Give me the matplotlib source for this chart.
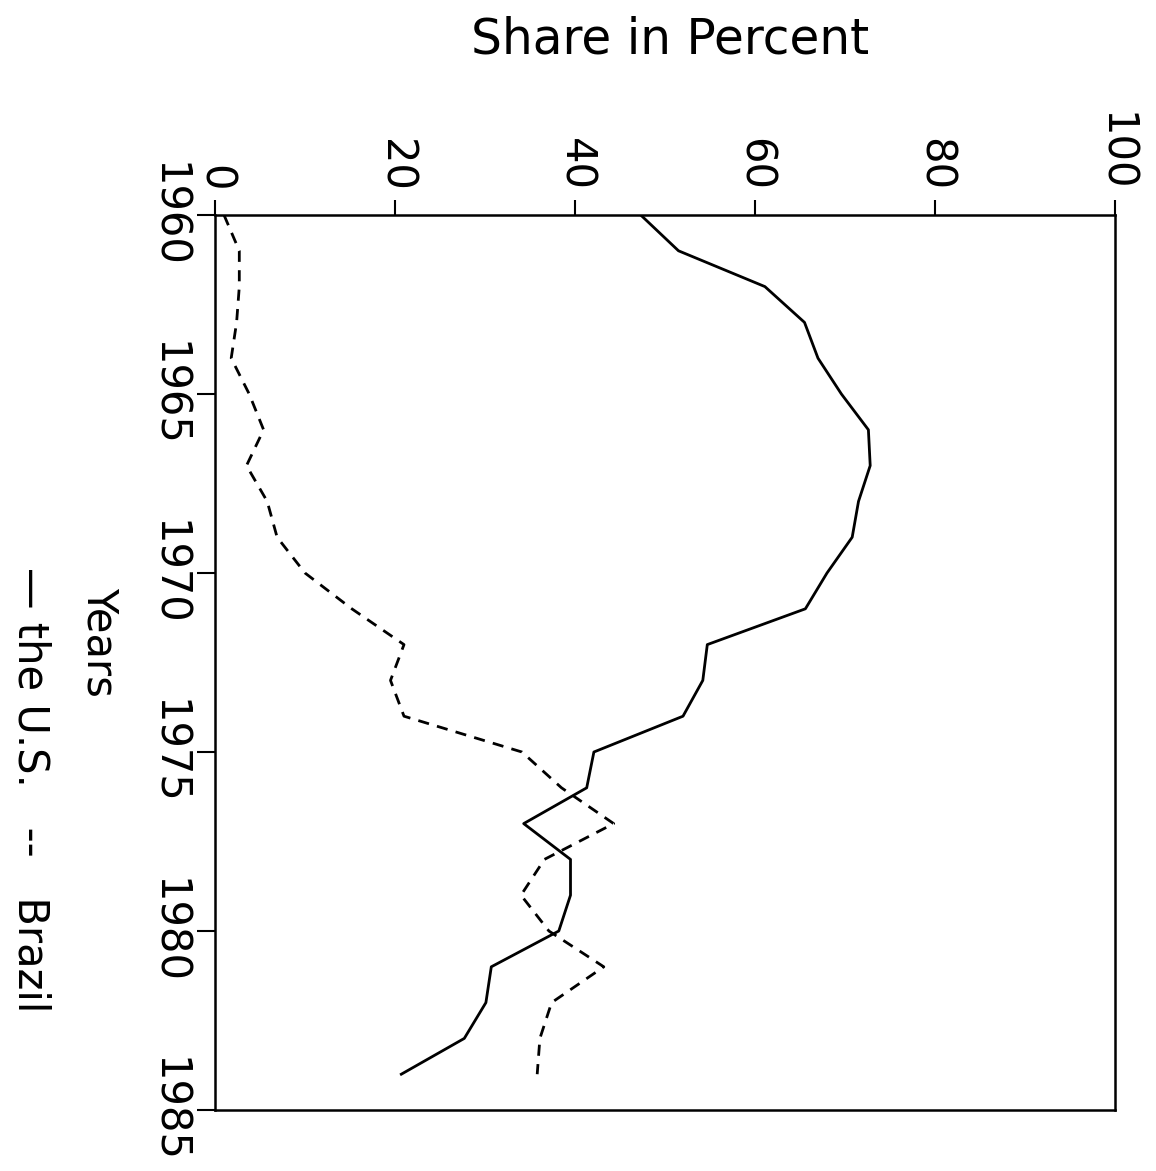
import matplotlib.pyplot as plt

# Annual shares (percent)
years = list(range(1960, 1985))
us_share = [47.3, 51.5, 61.1, 65.5, 67.0, 69.6, 72.6, 72.8, 71.5, 70.8,
            68.0, 65.6, 54.7, 54.2, 52.0, 42.1, 41.3, 34.3, 39.5, 39.5,
            38.2, 30.7, 30.1, 27.7, 20.7]
brazil_share = [1.0, 2.7, 2.7, 2.4, 1.8, 3.8, 5.4, 3.5, 5.8, 6.9,
                10.0, 15.2, 21.0, 19.5, 21.0, 34.1, 38.5, 44.3, 36.6, 34.0,
                37.1, 43.2, 37.4, 36.1, 35.8]
share_ticks = [0, 20, 40, 60, 80, 100]
year_ticks = [1960, 1965, 1970, 1975, 1980, 1985]

plt.rcParams['font.family'] = ['DejaVu Sans']

W, H = 1156, 1171
fig = plt.figure(figsize=(W / 100, H / 100), dpi=100)
ax = fig.add_axes([215 / W, 1 - 1110 / H, 900 / W, 895 / H])

ax.plot(us_share, years, color='black', lw=2)
ax.plot(brazil_share, years, color='black', lw=2, dashes=[4, 3])

ax.set_xlim(0, 100)
ax.set_ylim(1985, 1960)
ax.set_xticks(share_ticks)
ax.set_yticks(year_ticks)
ax.xaxis.tick_top()

for s in ax.spines.values():
    s.set_linewidth(1.8)

ax.tick_params(axis='x', direction='out', length=11, width=1.5, pad=6,
               labelsize=30, labelrotation=-90)
ax.tick_params(axis='y', direction='out', length=13, width=1.5, pad=6,
               labelsize=30, labelrotation=-90)
for lab in ax.get_yticklabels():
    lab.set_va('center')

fig.text(670 / W, 1 - 40 / H, 'Share in Percent', ha='center', va='center',
         fontsize=35)
fig.text(100 / W, 1 - 642 / H, 'Years', rotation=-90, ha='center',
         va='center', fontsize=30)
fig.text(30 / W, 1 - 790 / H, '\u2014 the U.S.   --   Brazil', rotation=-90,
         ha='center', va='center', fontsize=30)

fig.savefig('out.png', dpi=100)
